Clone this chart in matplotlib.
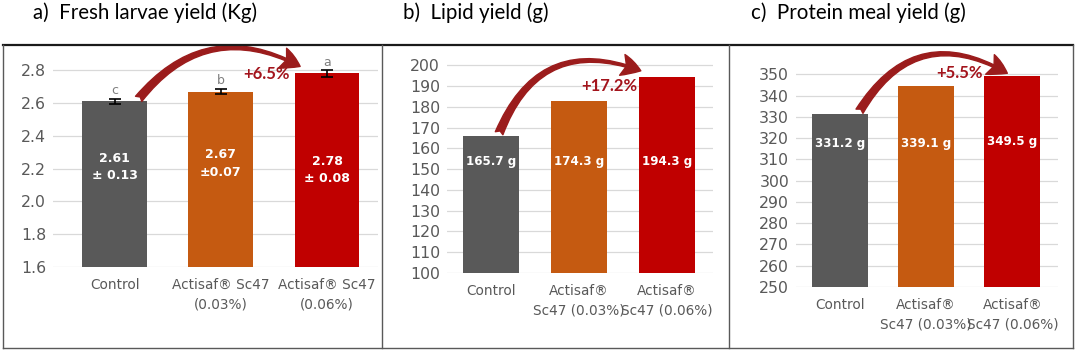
import matplotlib.pyplot as plt
from matplotlib.patches import FancyArrowPatch
from matplotlib.lines import Line2D

plt.rcParams['font.family'] = ['DejaVu Sans']

cats_a = ['Control', 'Actisaf® Sc47\n(0.03%)', 'Actisaf® Sc47\n(0.06%)']
cats_bc = ['Control', 'Actisaf®\nSc47 (0.03%)', 'Actisaf®\nSc47 (0.06%)']

larvae = [2.61, 2.67, 2.78]
larvae_err = [0.017, 0.017, 0.02]
larvae_letters = ['c', 'b', 'a']
larvae_labels = ['2.61\n± 0.13', '2.67\n±0.07', '2.78\n± 0.08']
larvae_label_y = [2.21, 2.23, 2.19]

lipid = [165.7, 182.8, 194.2]
lipid_labels = ['165.7 g', '174.3 g', '194.3 g']
lipid_label_y = 153.8

protein = [331.2, 344.4, 349.3]
protein_labels = ['331.2 g', '339.1 g', '349.5 g']
protein_label_y = [317.6, 317.6, 318.5]

colors = ['#595959', '#C55A11', '#C00000']
grey_txt = '#595959'
pct_col = '#A3141C'
arrow_col = '#9B1C1C'

W, H = 1080, 357
fig = plt.figure(figsize=(10.8, 3.57), dpi=100)


def px_axes(l, r, top, bot):
    return fig.add_axes([l / W, 1 - bot / H, (r - l) / W, (bot - top) / H])


def style(ax, ticks, lo, hi, xl, cats):
    ax.set_ylim(lo, hi)
    ax.set_xlim(*xl)
    ax.set_yticks(ticks)
    ax.set_xticks(range(3))
    ax.set_xticklabels(cats, fontsize=9.8, color=grey_txt, linespacing=1.45)
    ax.tick_params(axis='y', labelsize=11.3, labelcolor=grey_txt, length=0, pad=5)
    ax.tick_params(axis='x', length=0, pad=8)
    for s in ax.spines.values():
        s.set_visible(False)
    ax.yaxis.grid(True, color='#D9D9D9', lw=0.9)
    ax.set_axisbelow(True)


def curve(ax, p0, p1, rad):
    arr = FancyArrowPatch(p0, p1, connectionstyle=f'arc3,rad={rad}',
                          arrowstyle='fancy,head_length=1.0,head_width=1.1,tail_width=0.42',
                          mutation_scale=14, color=arrow_col, clip_on=False, zorder=5)
    ax.add_patch(arr)


def pct(ax, x, y, s):
    ax.text(x, y, s, ha='center', va='center', fontsize=12, family='Lato',
            color=pct_col, fontweight='bold')


# a) fresh larvae
ax1 = px_axes(53, 378, 62, 267)
style(ax1, [1.6, 1.8, 2.0, 2.2, 2.4, 2.6, 2.8], 1.6, 2.85, (-0.58, 2.48), cats_a)
ax1.set_yticklabels(['1.6', '1.8', '2.0', '2.2', '2.4', '2.6', '2.8'])
ax1.bar(range(3), larvae, width=0.61, color=colors)
ax1.errorbar(range(3), larvae, yerr=larvae_err, fmt='none', ecolor='black',
             elinewidth=1.2, capsize=4, capthick=1.2)
for i in range(3):
    ax1.text(i, larvae[i] + larvae_err[i] + 0.008, larvae_letters[i], ha='center', va='bottom',
             fontsize=9, color='#7F7F7F')
    ax1.text(i, larvae_label_y[i], larvae_labels[i], ha='center', va='center',
             fontsize=9, color='white', fontweight='bold', linespacing=1.45)
pct(ax1, 1.43, 2.777, '+6.5%')
curve(ax1, (0.21, 2.612), (1.77, 2.815), -0.42)

# b) lipid
ax2 = px_axes(447, 713, 61, 273)
style(ax2, range(100, 201, 10), 100, 202, (-0.5, 2.52), cats_bc)
ax2.bar(range(3), lipid, width=0.64, color=colors)
for i in range(3):
    ax2.text(i, lipid_label_y, lipid_labels[i], ha='center', va='center',
             fontsize=8.6, color='white', fontweight='bold')
pct(ax2, 1.34, 189.9, '+17.2%')
curve(ax2, (0.08, 166.0), (1.73, 196.8), -0.5)

# c) protein meal
ax3 = px_axes(796, 1058, 70, 287)
style(ax3, range(250, 351, 10), 250, 352, (-0.51, 2.53), cats_bc)
ax3.bar(range(3), protein, width=0.65, color=colors)
for i in range(3):
    ax3.text(i, protein_label_y[i], protein_labels[i], ha='center', va='center',
             fontsize=8.6, color='white', fontweight='bold')
pct(ax3, 1.39, 350.5, '+5.5%')
curve(ax3, (0.21, 331.5), (1.97, 349.8), -0.5)

# titles
for x, t in [(33, 'a)  Fresh larvae yield (Kg)'), (403, 'b)  Lipid yield (g)'),
             (751, 'c)  Protein meal yield (g)')]:
    fig.text(x / W, 1 - 13 / H, t, fontsize=14.8, family='Lato', va='center', ha='left')


# panel frames
def hline(x0, x1, y, lw, c):
    fig.add_artist(Line2D([x0 / W, x1 / W], [1 - y / H, 1 - y / H], lw=lw, color=c))


def vline(x, y0, y1, lw, c):
    fig.add_artist(Line2D([x / W, x / W], [1 - y0 / H, 1 - y1 / H], lw=lw, color=c))


hline(3, 1073, 45, 1.6, '#1a1a1a')
hline(3, 1073, 348, 1.0, '#595959')
for x in [3, 382, 729, 1073]:
    vline(x, 45, 348, 1.0, '#595959')

fig.savefig('out.png', dpi=100)
